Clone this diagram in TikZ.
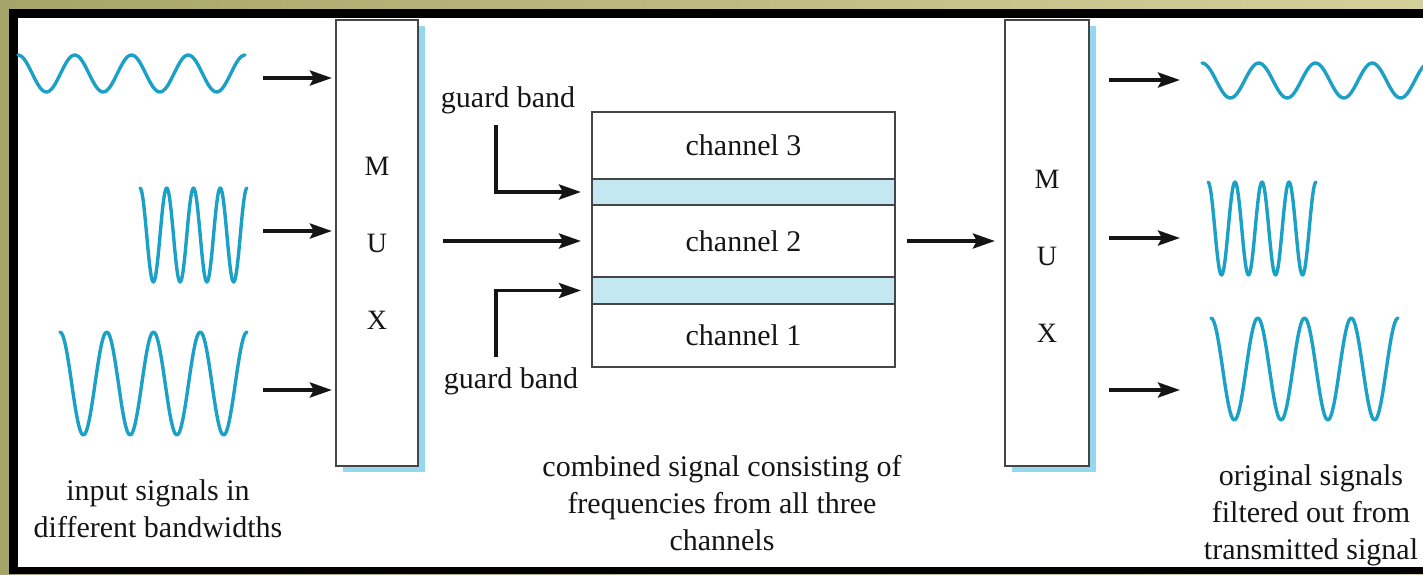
\documentclass[tikz,border=0pt]{standalone}
\usepackage{fontspec}
\setmainfont{Liberation Serif}
\usetikzlibrary{arrows.meta,positioning,shadows}
\definecolor{MXOliveL}{HTML}{A6A569}
\definecolor{MXOliveR}{HTML}{D4D09A}
\definecolor{MXInk}{HTML}{151515}
\definecolor{MXLine}{HTML}{454545}
\definecolor{MXWave}{HTML}{1BA0C6}
\definecolor{MXGuard}{HTML}{C4E8F1}
\definecolor{MXShadow}{HTML}{93D8EE}
\tikzset{
  flow/.style={-{Stealth[length=22pt,width=15pt,inset=4pt]},MXInk,line width=3.8pt},
  wave/.style={MXWave,line width=3.4pt,line join=round,line cap=round},
  muxbox/.style={draw=MXLine,line width=2.2pt,fill=white,minimum width=82pt,
                 minimum height=446pt,text=MXInk,align=center,
                 font=\fontsize{28}{77}\selectfont,
                 drop shadow={shadow xshift=7pt,shadow yshift=-6pt,fill=MXShadow,opacity=1}},
  chan/.style={draw=MXLine,line width=2.2pt,fill=white,minimum width=303pt,
               outer sep=0pt,inner sep=0pt,text=MXInk,font=\fontsize{30}{36}\selectfont},
  guard/.style={chan,fill=MXGuard,minimum height=26pt},
  label/.style={text=MXInk,font=\fontsize{30}{37}\selectfont,align=center},
}
% x0, period, centre line, amplitude
\newcommand{\sigwave}[4]{%
  \draw[wave] plot[domain=0:4,samples=121,smooth] ({#1+#2*\x},{#3-#4*cos(360*\x)});}

\begin{document}
\begin{tikzpicture}[x=1pt,y=-1pt]
    \useasboundingbox (0,0) rectangle (1423,574);
    % --- frame ---
    \shade[left color=MXOliveL,right color=MXOliveR] (0,0) rectangle (1423,574);
    \fill[black] (9,9) rectangle (1423,574);
    \fill[white] (18,18) rectangle (1423,567);

    % --- multiplexers ---
    \node[muxbox] (muxin) at (377,243) {M\\U\\X};
    \node[muxbox,minimum width=84pt] (muxout) at (1047,243) {\rule{0pt}{44pt}M\\U\\X};

    % --- input signals ---
    \sigwave{18}{56.75}{73.5}{18.5}
    \sigwave{140}{26.75}{235}{47}
    \sigwave{60}{46.75}{383.5}{51.5}
    \coordinate (in1) at (263,78);
    \coordinate (in2) at (263,231);
    \coordinate (in3) at (263,390);
    \foreach \i in {1,2,3}{
      \draw[flow,shorten >=3pt] (in\i) -- (in\i -| muxin.west);
    }
    \node[label] (inlabel) at (158,509) {input signals in\\different bandwidths};

    % --- combined signal ---
    \node[chan,minimum height=67pt] (ch3) at (743.5,145.5) {channel 3};
    \node[guard,below=0pt of ch3] (gb3) {};
    \node[chan,minimum height=72pt,below=0pt of gb3] (ch2) {channel 2};
    \node[guard,minimum height=27pt,below=0pt of ch2] (gb1) {};
    \node[chan,minimum height=63pt,below=0pt of gb1] (ch1) {channel 1};

    \node[label] (gbup) at (508,100) {guard band};
    \node[label] (gbdown) at (511,381) {guard band};
    \coordinate (gbupend) at (496,125);
    \coordinate (gbdownend) at (496,357);
    \coordinate (mixin) at (443,241);
    \draw[flow,shorten >=11pt] (gbupend) |- (gb3.west);
    \draw[flow,shorten >=11pt] (gbdownend) |- (gb1.west);
    \draw[flow,shorten >=11pt] (mixin) -- (mixin -| ch2.west);
    \draw[flow,shorten <=12pt,shorten >=9pt] (ch2.east) -- (ch2.east -| muxout.west);
    \node[label] (mixlabel) at (722,503)
      {combined signal consisting of\\frequencies from all three\\channels};

    % --- output signals ---
    \begin{scope}
      \clip (18,18) rectangle (1423,567);
      \sigwave{1202}{56.75}{80.5}{17.5}
    \end{scope}
    \sigwave{1208}{27}{228.5}{46.5}
    \sigwave{1211}{46.75}{369}{51}
    \coordinate (out1) at (1180,80);
    \coordinate (out2) at (1180,238);
    \coordinate (out3) at (1180,390);
    \foreach \i in {1,2,3}{
      \draw[flow,shorten <=19pt] (out\i -| muxout.east) -- (out\i);
    }
    \node[label] (outlabel) at (1311,515)
      {original signals\\filtered out from\\transmitted signal};
  \end{tikzpicture}
\end{document}
